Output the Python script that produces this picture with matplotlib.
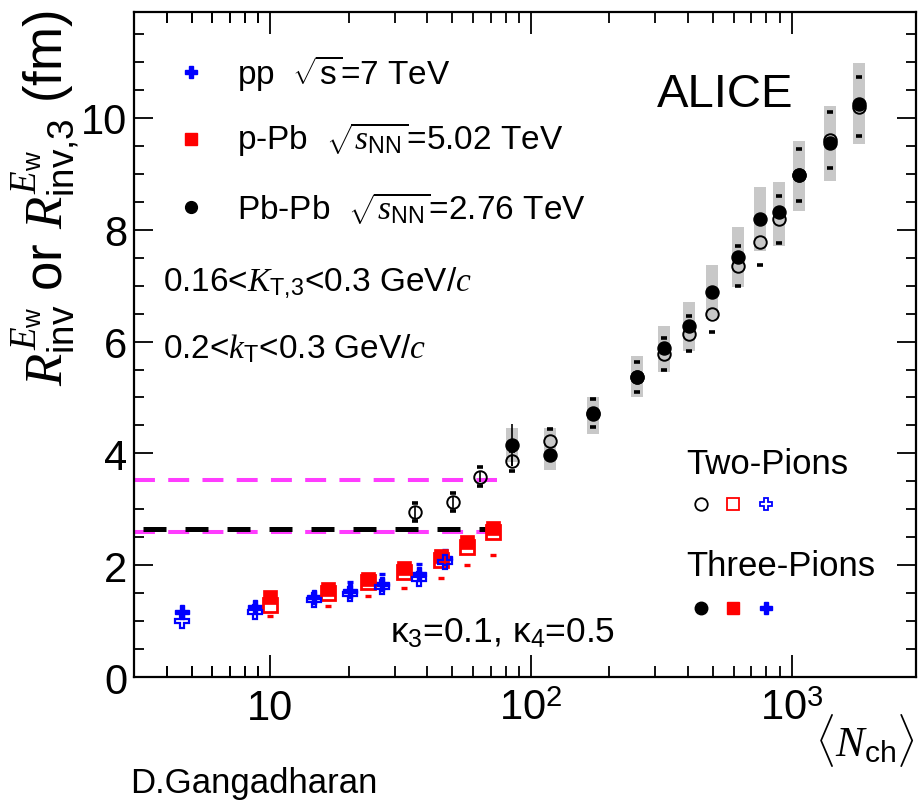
import numpy as np
import matplotlib
matplotlib.use("Agg")
import matplotlib.pyplot as plt
from matplotlib.ticker import FixedLocator, NullFormatter

plt.rcParams['font.family'] = ['Liberation Sans', 'DejaVu Sans']
plt.rcParams['mathtext.fontset'] = 'custom'
plt.rcParams['mathtext.rm'] = 'Liberation Sans'
plt.rcParams['mathtext.it'] = 'Liberation Serif:italic'
plt.rcParams['mathtext.bf'] = 'Liberation Sans:bold'

# ---------------- data ----------------
# Pb-Pb, three-pion radii with systematic band
pbpb3_n = [84.5, 118, 173, 255, 324, 403, 497, 621, 754, 891, 1064, 1400, 1806]
pbpb3_r = [4.15, 3.97, 4.70, 5.37, 5.88, 6.28, 6.89, 7.51, 8.19, 8.32, 8.98, 9.55, 10.25]
pbpb3_lo = [3.85, 3.70, 4.35, 5.01, 5.46, 5.83, 6.41, 6.98, 7.62, 7.71, 8.34, 8.87, 9.53]
pbpb3_hi = [4.45, 4.45, 5.01, 5.74, 6.28, 6.71, 7.37, 8.05, 8.77, 8.86, 9.59, 10.21, 10.98]

# Pb-Pb, two-pion radii with systematic error
pbpb2_n = [36, 50.2, 63.8, 84.5, 118, 173, 255, 324, 403, 497, 621, 754, 891, 1064, 1400, 1806]
pbpb2_r = [2.95, 3.13, 3.58, 3.87, 4.22, 4.73, 5.37, 5.78, 6.14, 6.49, 7.35, 7.78, 8.19, 8.98, 9.61, 10.20]
pbpb2_sys = [0.16, 0.16, 0.17, 0.18, 0.22, 0.25, 0.27, 0.29, 0.31, 0.32, 0.36, 0.41, 0.42, 0.47, 0.50, 0.53]

# p-Pb
ppb_n = [10.0, 16.7, 23.6, 32.6, 45.2, 56.9, 71.5]
ppb3_r = [1.43, 1.57, 1.75, 1.95, 2.16, 2.41, 2.67]
ppb2_r = [1.29, 1.50, 1.70, 1.88, 2.09, 2.33, 2.59]
ppb2_lo = [1.09, 1.27, 1.45, 1.59, 1.77, 2.00, 2.18]

# pp
pp_n = [4.6, 8.7, 14.7, 20.3, 26.8, 37.2, 46.8]
pp3_r = [1.17, 1.25, 1.43, 1.54, 1.66, 1.84, 2.12]
pp2_r = [1.01, 1.17, 1.37, 1.48, 1.61, 1.76, 2.05]
pp2_hi_n = [20.3, 26.8, 37.2, 46.8]
pp2_hi = [1.70, 1.84, 2.02, 2.27]

# reference levels (value, N range)
mag_levels = [3.52, 2.60]
mag_range = [3.0, 74.0]
blk_level = 2.64
blk_range = [3.24, 72.0]

x_major = [10, 100, 1000]
x_major_labels = ['10', r'$10^2$', r'$10^3$']
y_major = [0, 2, 4, 6, 8, 10]

W, H = 918, 803
fig = plt.figure(figsize=(W / 100, H / 100), dpi=100)
ax = fig.add_axes([134 / W, 1 - 678 / H, (916 - 134) / W, (678 - 12.7) / H])
ax.set_xscale('log')
ax.set_xlim(3, 3000)
ax.set_ylim(0, 11.9)


def fpos(x, y):
    return x / W, 1 - y / H


BLUE = (0, 0, 1)
RED = (1, 0, 0)
MAG = '#ff3cff'
GREY = '#c8c8c8'

# systematic boxes for Pb-Pb three-pion
hw = 0.023
for n, lo, hi in zip(pbpb3_n, pbpb3_lo, pbpb3_hi):
    ax.fill_between([n / 10 ** hw, n * 10 ** hw], lo, hi, color=GREY, lw=0, zorder=1)

# reference dashed lines
for lvl in mag_levels:
    ax.plot(mag_range, [lvl, lvl], color=MAG, lw=2.9, dashes=(5.2, 3.3), zorder=2,
            dash_capstyle='butt')
ax.plot(blk_range, [blk_level, blk_level], color='k', lw=3.6, dashes=(4.6, 3.8), zorder=2,
        dash_capstyle='butt')

# pp three-pion (filled)
ax.plot(pp_n, pp3_r, ls='none', marker='P', ms=10.5, color=BLUE, mec=BLUE, zorder=3)

# p-Pb two-pion (open) and three-pion (filled)
ax.plot(ppb_n, ppb2_lo, ls='none', marker='_', ms=5, mew=2.4, color=RED, zorder=3)
ax.plot(ppb_n, ppb2_r, ls='none', marker='s', ms=9.8, mfc='none', mec=RED, mew=2.0, zorder=4)
ax.plot(ppb_n, ppb3_r, ls='none', marker='s', ms=9.8, color=RED, mec=RED, mew=0.5, zorder=5)

# pp two-pion (open)
ax.plot(pp2_hi_n, pp2_hi, ls='none', marker='_', ms=5, mew=2.4, color=BLUE, zorder=3)
ax.plot(pp_n, pp2_r, ls='none', marker='P', ms=10.5, mfc='none', mec=BLUE, mew=1.6, zorder=6)

# Pb-Pb
pbpb2_lo = [r - s for r, s in zip(pbpb2_r, pbpb2_sys)]
pbpb2_hi = [r + s for r, s in zip(pbpb2_r, pbpb2_sys)]
ax.plot(pbpb2_n, pbpb2_lo, ls='none', marker='_', ms=5, mew=2.6, color='k', zorder=3)
ax.plot(pbpb2_n, pbpb2_hi, ls='none', marker='_', ms=5, mew=2.6, color='k', zorder=3)
ax.errorbar([pbpb3_n[0]], [pbpb3_r[0]], yerr=[[0.37], [0.37]], fmt='none', ecolor='k',
            elinewidth=1.2, capsize=0, zorder=7)
ax.errorbar(pbpb2_n[:4], pbpb2_r[:4], yerr=0.1, fmt='none', ecolor='k',
            elinewidth=1.2, capsize=0, zorder=7)
ax.plot(pbpb2_n, pbpb2_r, ls='none', marker='o', ms=9.0, mfc='none', mec='k', mew=1.4, zorder=8)
ax.plot(pbpb3_n, pbpb3_r, ls='none', marker='o', ms=9.4, color='k', zorder=9)

# axes styling
for sp in ax.spines.values():
    sp.set_linewidth(1.6)
ax.xaxis.set_major_locator(FixedLocator(x_major))
ax.xaxis.set_minor_locator(FixedLocator(
    [v * d for d in (1, 10, 100) for v in range(2, 10)] + [4, 5, 6, 7, 8, 9]))
ax.set_xticklabels(x_major_labels)
ax.xaxis.set_minor_formatter(NullFormatter())
ax.set_yticks(y_major)
ax.set_yticks(np.arange(0, 12, 0.5), minor=True)
ax.tick_params(which='both', direction='in', top=True, right=True, width=1.3)
ax.tick_params(axis='x', which='major', length=16, labelsize=30, pad=8)
ax.tick_params(axis='x', which='minor', length=8)
ax.tick_params(axis='y', which='major', length=14, labelsize=30, pad=5)
ax.tick_params(axis='y', which='minor', length=7)

# axis titles
fig.text(*fpos(46, 10), r'$R^{E_{\rm w}}_{\rm inv}$ or $R^{E_{\rm w}}_{\rm inv{,}3}$ (fm)',
         rotation=90, ha='center', va='top', fontsize=38)
fig.text(*fpos(915, 741), r'$\langle N_{\rm ch}\rangle$', ha='right', va='center', fontsize=31)
fig.text(*fpos(130, 784), 'D.Gangadharan', ha='left', va='center', fontsize=25)

# system legend
leg_rows = [
    (73, 'P', BLUE, r'pp  $\sqrt{\rm s}$=7 TeV', 8.5),
    (140, 's', RED, r'p-Pb  $\sqrt{s_{\rm NN}}$=5.02 TeV', 8.5),
    (208, 'o', 'k', r'Pb-Pb  $\sqrt{s_{\rm NN}}$=2.76 TeV', 8.5),
]
for y, mk, col, label, ms in leg_rows:
    fig.lines.append(plt.Line2D([191 / W], [1 - y / H], marker=mk, ms=ms, color=col,
                                transform=fig.transFigure, ls='none'))
    fig.text(*fpos(237, y), label, ha='left', va='center', fontsize=24)

fig.text(*fpos(163, 283), r'0.16<$K_{\rm T{,}3}$<0.3 GeV/$c$', ha='left', va='center', fontsize=24)
fig.text(*fpos(163, 349), r'0.2<$k_{\rm T}$<0.3 GeV/$c$', ha='left', va='center', fontsize=24)
fig.text(*fpos(657, 95), 'ALICE', ha='left', va='center', fontsize=34)
fig.text(*fpos(390, 633), 'κ$_3$=0.1, κ$_4$=0.5', ha='left', va='center', fontsize=25.5)

# pion legend
fig.text(*fpos(686, 465), 'Two-Pions', ha='left', va='center', fontsize=25)
fig.text(*fpos(686, 566), 'Three-Pions', ha='left', va='center', fontsize=25)
two_style = [('o', 'k', 'none'), ('s', RED, 'none'), ('P', BLUE, 'none')]
three_style = [('o', 'k', 'k'), ('s', RED, RED), ('P', BLUE, BLUE)]
for x, (mk, col, fc) in zip([701, 733, 766], two_style):
    fig.lines.append(plt.Line2D([x / W], [1 - 505 / H], marker=mk, ms=9, mec=col, mfc=fc,
                                mew=1.3, transform=fig.transFigure, ls='none'))
for x, (mk, col, fc) in zip([701, 733, 766], three_style):
    fig.lines.append(plt.Line2D([x / W], [1 - 609 / H], marker=mk, ms=9, mec=col, mfc=fc,
                                transform=fig.transFigure, ls='none'))

fig.savefig('out.png', dpi=100)
